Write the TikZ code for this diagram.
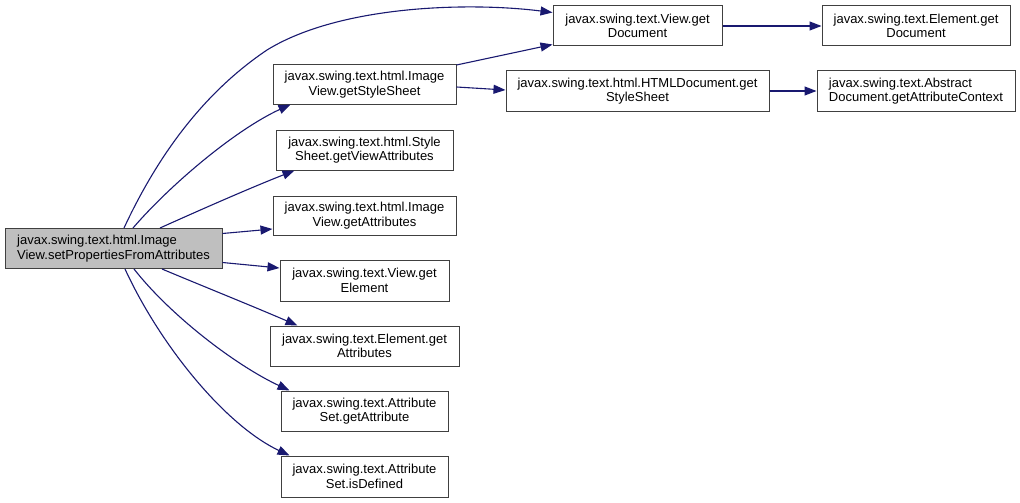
\documentclass[tikz,border=0pt]{standalone}
\usepackage{fontspec}
\setmainfont{Liberation Sans}
\usetikzlibrary{arrows.meta}
\definecolor{edgec}{HTML}{191970}
\definecolor{rootfill}{HTML}{BFBFBF}
\tikzset{
  x=1pt,y=1pt,
  box/.style={draw=black!75,line width=1pt,inner sep=0pt,font=\fontsize{13}{14.5}\selectfont,align=center},
  leftbox/.style={box,align=left},
  edgeline/.style={draw=edgec,line width=1.1pt},
  edge/.style={edgeline,-{Triangle[length=12pt,width=9pt]}}
}
\begin{document}
\begin{tikzpicture}
\useasboundingbox (0,0) rectangle (1020,-503);
\node[leftbox,fill=rootfill,minimum width=217,minimum height=40] (root) at (113.5,-248.5) {javax.swing.text.html.Image\\View.setPropertiesFromAttributes};
\node[box,minimum width=183,minimum height=39] (gss) at (364.5,-84.5) {javax.swing.text.html.Image\\View.getStyleSheet};
\node[box,minimum width=169,minimum height=40] (vgd) at (637.5,-26) {javax.swing.text.View.get\\Document};
\node[box,minimum width=188,minimum height=40] (egd) at (916,-26) {javax.swing.text.Element.get\\Document};
\node[box,minimum width=263,minimum height=40] (hdg) at (637.5,-91) {javax.swing.text.html.HTMLDocument.get\\StyleSheet};
\node[leftbox,minimum width=198,minimum height=40] (adg) at (916,-91) {javax.swing.text.Abstract\\Document.getAttributeContext};
\node[box,minimum width=177,minimum height=40] (ssv) at (364.5,-150) {javax.swing.text.html.Style\\Sheet.getViewAttributes};
\node[box,minimum width=183,minimum height=39] (iga) at (364.5,-215.5) {javax.swing.text.html.Image\\View.getAttributes};
\node[box,minimum width=169,minimum height=41] (vge) at (364.5,-280.5) {javax.swing.text.View.get\\Element};
\node[box,minimum width=189,minimum height=40] (ega) at (364.5,-346) {javax.swing.text.Element.get\\Attributes};
\node[box,minimum width=167,minimum height=40] (asa) at (364.5,-411) {javax.swing.text.Attribute\\Set.getAttribute};
\node[box,minimum width=167,minimum height=41] (asd) at (364.5,-476.5) {javax.swing.text.Attribute\\Set.isDefined};
\coordinate (mid1) at (267,-50);
\draw[edgeline] ([xshift=10.5pt]root.north) .. controls (165,-140) and (215,-85) .. (mid1);
\draw[edge] (mid1) .. controls (340,-5) and (470,-2) .. ([yshift=-7pt]vgd.north west);
\draw[edge] ([xshift=19.5pt]root.north) .. controls (170,-185) and (235,-130) .. ([xshift=-74pt]gss.south);
\draw[edge] ([xshift=46.5pt]root.north) .. controls (200,-210) and (250,-188) .. ([xshift=-70pt]ssv.south);
\draw[edge] ([yshift=-5.5pt]root.north east) -- ([yshift=-13.5pt]iga.west);
\draw[edge] ([yshift=6.5pt]root.south east) -- ([yshift=12.5pt]vge.west);
\draw[edge] ([xshift=48.5pt]root.south) .. controls (200,-285) and (250,-305) .. ([xshift=-67pt]ega.north);
\draw[edge] ([xshift=20.5pt]root.south) .. controls (170,-315) and (235,-365) .. ([xshift=-75pt]asa.north);
\draw[edge] ([xshift=11.5pt]root.south) .. controls (160,-345) and (225,-425) .. ([xshift=-75pt]asd.north);
\draw[edge] ([yshift=-0.5pt]gss.north east) -- ([yshift=2pt]vgd.south west);
\draw[edge] ([yshift=-2.5pt]gss.east) -- ([yshift=1pt]hdg.west);
\draw[edge] (vgd) -- (egd);
\draw[edge] (hdg) -- (adg);
\end{tikzpicture}
\end{document}
